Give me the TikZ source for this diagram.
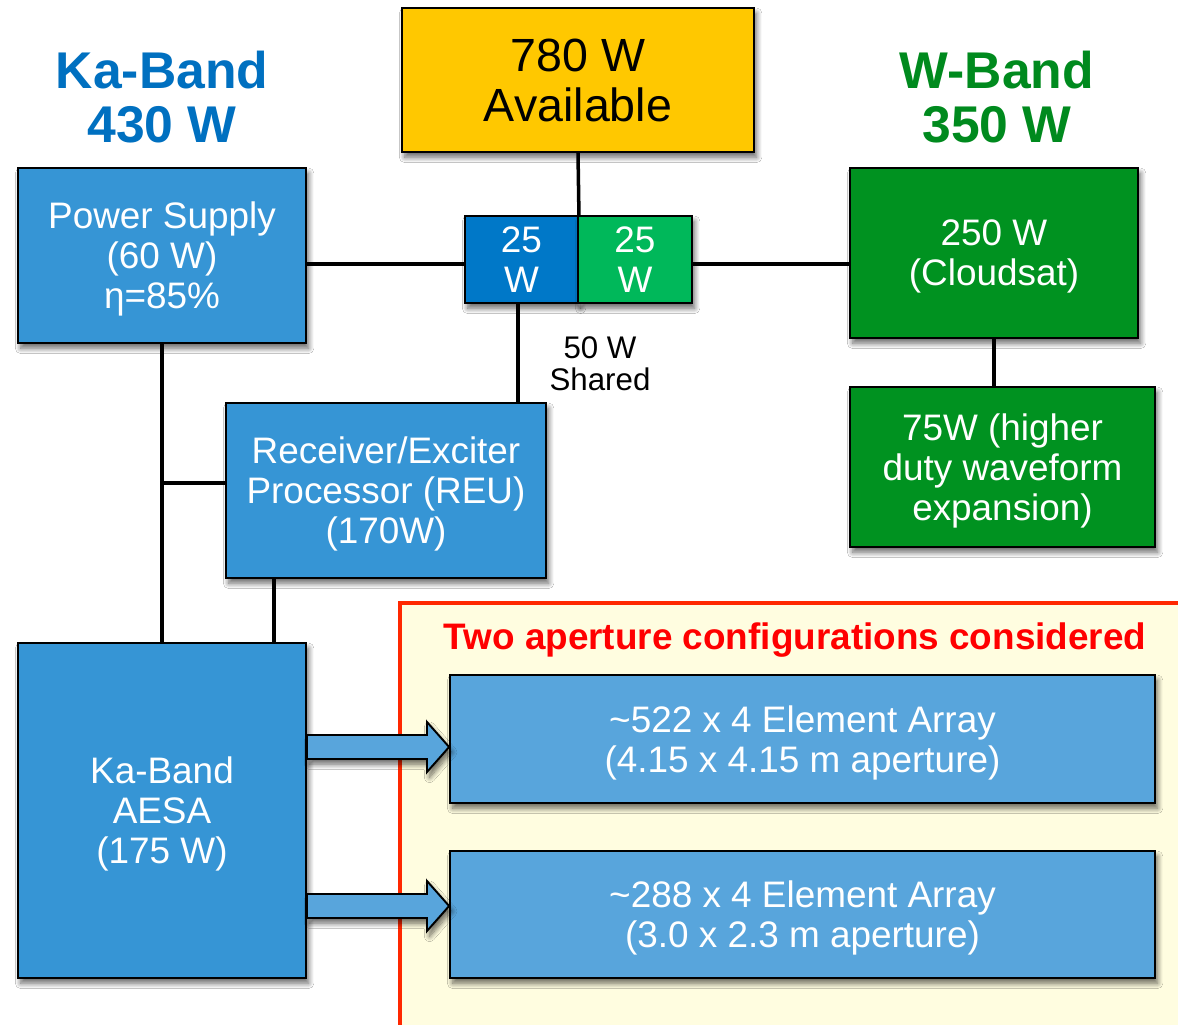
\documentclass[tikz,border=0pt]{standalone}
\usepackage[rgb]{xcolor}
\usepackage{fontspec}
\setmainfont{Liberation Sans}
\usepackage{tikz}
\usetikzlibrary{calc,shadows.blur}

\definecolor{kablue}{RGB}{0,112,192}
\definecolor{wgreen}{RGB}{0,138,30}
\definecolor{boxblue}{RGB}{54,149,213}
\definecolor{arrblue}{RGB}{88,165,220}
\definecolor{shareblue}{RGB}{0,120,200}
\definecolor{sharegreen}{RGB}{0,184,90}
\definecolor{boxgreen}{RGB}{0,146,32}
\definecolor{availyellow}{RGB}{255,200,0}
\definecolor{framered}{RGB}{255,40,0}
\definecolor{paleyellow}{RGB}{255,253,224}

\tikzset{
  softshadow/.style={blur shadow={shadow xshift=1.5pt, shadow yshift=-3pt,
    shadow blur radius=3pt, shadow blur steps=10, shadow opacity=60}},
  pwrbox/.style={draw=black, line width=1.1pt, inner sep=0pt, align=center,
    text=white, font=\fontsize{21}{22.7}\selectfont, text depth=0pt, softshadow},
  wire/.style={line width=2pt, black},
  blockarrow/.style={draw=black, line width=1.1pt, fill=arrblue, softshadow},
  bandtitle/.style={align=center, font=\bfseries\fontsize{29.4}{31.2}\selectfont}
}

\begin{document}
\begin{tikzpicture}[x=0.02cm, y=-0.02cm]
\useasboundingbox (0,0) rectangle (1178,1025);
\fill[white] (0,0) rectangle (1178,1025);

%% frame for the two apertures
\fill[paleyellow] (400,603) rectangle (1178,1025);
\draw[framered, line width=2.3pt] (400,1025) |- (1178,603);
\path (795,640) node (twoconf) [text=red, font=\bfseries\fontsize{21}{22}\selectfont]
  {Two aperture configurations considered};

%% band titles
\path
(162,97) node (katitle) [bandtitle, text=kablue] {Ka-Band\\430 W}
(997,97) node (wtitle) [bandtitle, text=wgreen] {W-Band\\350 W};

%% boxes
\path
(578,80) node (avail) [pwrbox, fill=availyellow, text=black,
  minimum width=7.04cm, minimum height=2.88cm,
  font=\fontsize{26.5}{28.3}\selectfont] {780 W\\Available}
(162,255.5) node (supply) [pwrbox, fill=boxblue,
  minimum width=5.76cm, minimum height=3.5cm] {Power Supply\\(60 W)\\η=85\%}
(521.5,259.5) node (shareka) [pwrbox, fill=shareblue,
  minimum width=2.26cm, minimum height=1.74cm] {25\\W}
(635,259.5) node (sharew) [pwrbox, fill=sharegreen,
  minimum width=2.28cm, minimum height=1.74cm] {25\\W}
(994,253) node (cloudsat) [pwrbox, fill=boxgreen,
  minimum width=5.76cm, minimum height=3.4cm] {250 W\\(Cloudsat)}
(1002.5,467) node (expand) [pwrbox, fill=boxgreen,
  minimum width=6.1cm, minimum height=3.2cm] {75W (higher\\duty waveform\\expansion)}
(386,490.5) node (reu) [pwrbox, fill=boxblue,
  minimum width=6.4cm, minimum height=3.5cm] {Receiver/Exciter\\Processor (REU)\\(170W)}
(162,810.5) node (aesa) [pwrbox, fill=boxblue,
  minimum width=5.76cm, minimum height=6.7cm] {Ka-Band\\AESA\\(175 W)}
(802.5,739) node (arrayA) [pwrbox, fill=arrblue,
  minimum width=14.1cm, minimum height=2.56cm]
  {\textasciitilde522 x 4 Element Array\\(4.15 x 4.15 m aperture)}
(802.5,914.5) node (arrayB) [pwrbox, fill=arrblue,
  minimum width=14.1cm, minimum height=2.54cm]
  {\textasciitilde288 x 4 Element Array\\(3.0 x 2.3 m aperture)};

\path (600,364) node (shared) [align=center, font=\fontsize{17.8}{18.1}\selectfont]
  {50 W\\Shared};

%% wires
\coordinate (bus) at (0,264);
\coordinate (tap) at (162,483);
\coordinate (reutap) at (274,578);
\draw[wire] (avail.south) -- (shareka.north east);
\draw[wire] (shareka.west |- bus) -- (supply.east |- bus);
\draw[wire] (sharew.east |- bus) -- (cloudsat.west |- bus);
\draw[wire] (cloudsat.south) -- (cloudsat.south |- expand.north);
\draw[wire] ([xshift=-2pt]shareka.south) -- ([xshift=-2pt]shareka.south |- reu.north);
\draw[wire] (supply.south) -- (aesa.north);
\draw[wire] (tap) -- (reu.west |- tap);
\draw[wire] (reutap) -- (reutap |- aesa.north);

%% block arrows to the arrays
\foreach \ay/\tgt in {747/arrayA, 906/arrayB}
  \draw[blockarrow]
    (aesa.east |- 0,\ay-12) -- (427,\ay-12) -- (427,\ay-25)
    -- (\tgt.west |- 0,\ay) -- (427,\ay+25) -- (427,\ay+12)
    -- (aesa.east |- 0,\ay+12) -- cycle;

\end{tikzpicture}
\end{document}
